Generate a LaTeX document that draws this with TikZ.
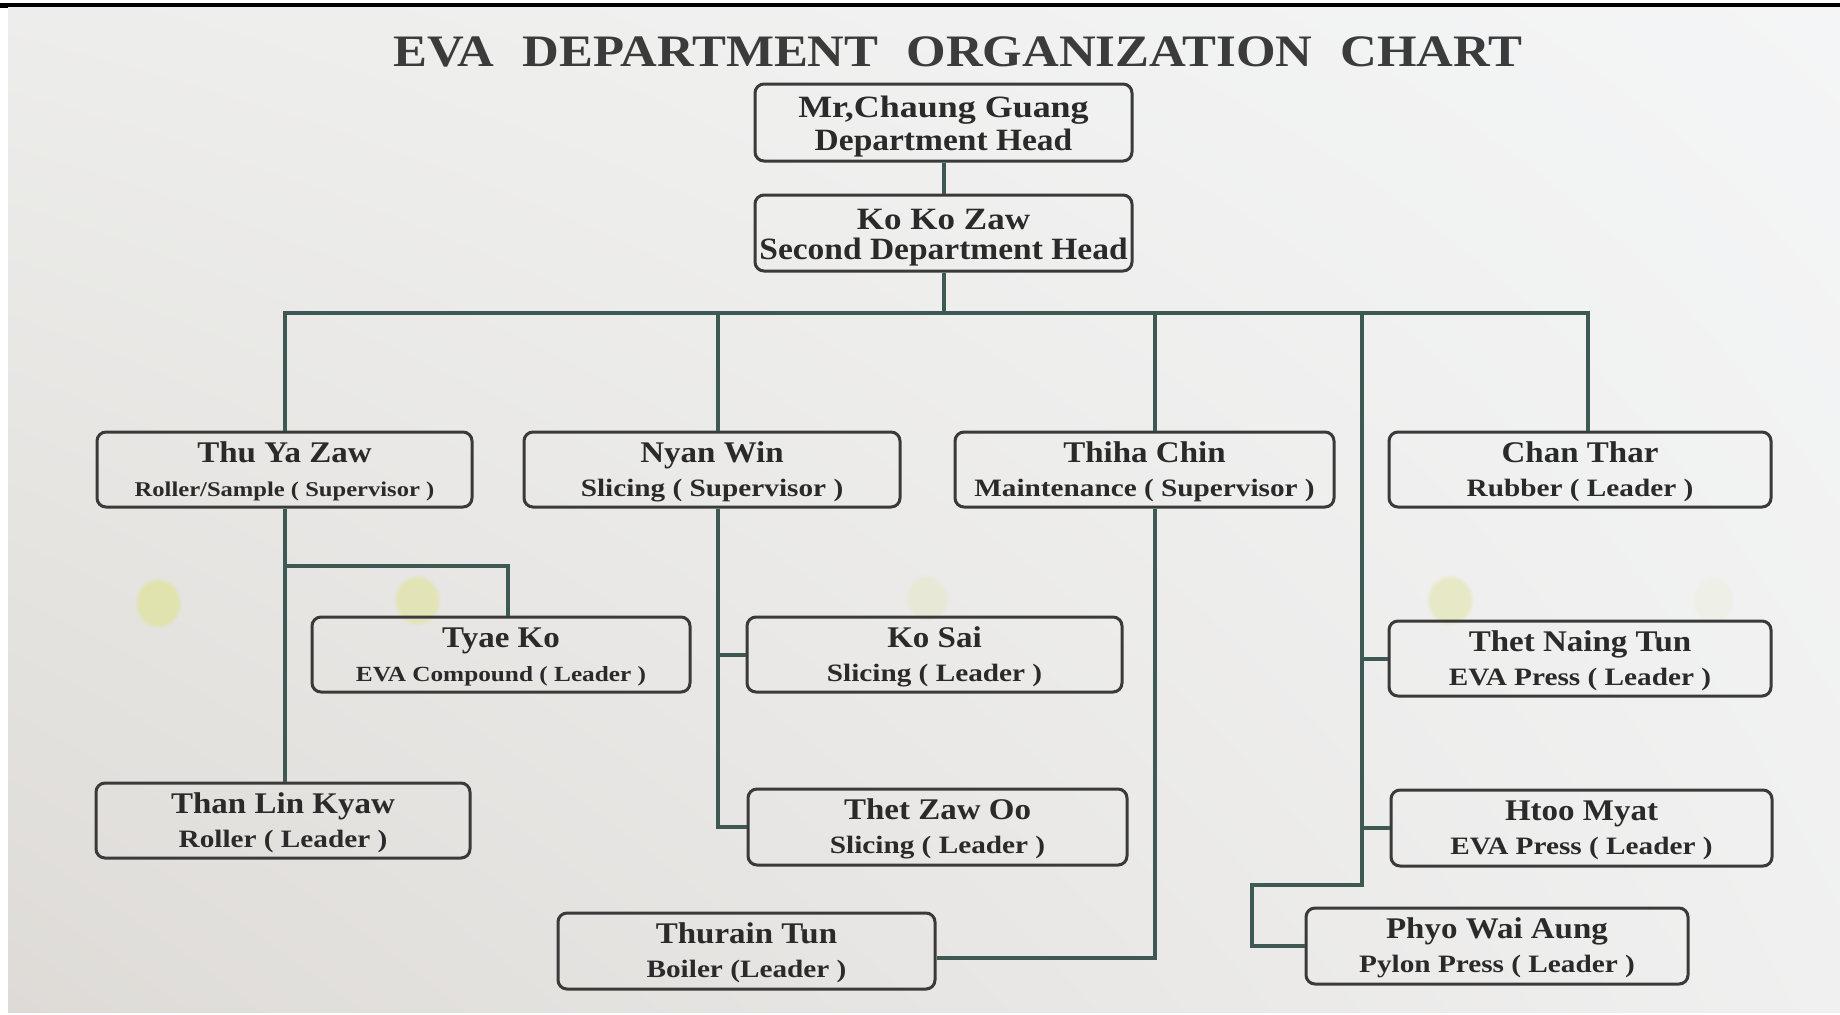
\documentclass[tikz,border=0pt]{standalone}
\usepackage{fontspec}
\setmainfont{Liberation Serif}
\usetikzlibrary{calc,fadings,shadings}

\definecolor{paperUL}{HTML}{EDEDEB}
\definecolor{paperLL}{HTML}{DEDBD7}
\definecolor{paperUR}{HTML}{F4F5F6}
\definecolor{paperLR}{HTML}{F0F0F0}
\definecolor{wire}{HTML}{3E5853}
\definecolor{frame}{HTML}{3A3A3A}
\definecolor{ink}{HTML}{2A2A2A}
\definecolor{stain}{HTML}{E0E39E}

\tikzset{
  box/.style={draw=frame, line width=1.5pt, rounded corners=4.5pt, inner sep=0pt},
  wire/.style={draw=wire, line width=2pt},
  nametxt/.style={anchor=base, inner sep=0pt, text=ink, font=\bfseries\fontsize{15}{15}\selectfont},
  roletxt/.style={anchor=base, inner sep=0pt, text=ink},
  headtxt/.style={anchor=base, inner sep=0pt, text=ink, font=\bfseries\fontsize{15.5}{15.5}\selectfont},
  titletxt/.style={anchor=base, inner sep=0pt, text=ink!92, font=\bfseries\fontsize{22.5}{22.5}\selectfont},
  stainspot/.style={fill=stain, path fading=circle with fuzzy edge 20 percent},
}

% #1 id, #2 left, #3 top, #4 right, #5 bottom, #6 name, #7 role, #8 role size (pt)
\newcommand\member[8]{%
  \node[box, minimum width={(#4-#2)*0.5pt}, minimum height={(#5-#3)*0.5pt}]
    (#1) at ({(#2+#4)/2},{(#3+#5)/2}) {};
  \node[nametxt] (#1-name) at ({(#2+#4)/2},{#3+30}) {\scalebox{1.1}[1]{#6}};
  \node[roletxt, font=\bfseries\fontsize{#8}{#8}\selectfont]
    (#1-role) at ({(#2+#4)/2},{#3+64}) {\scalebox{1.17}[1]{#7}};
}

\begin{document}
\begin{tikzpicture}[x=0.5pt,y=-0.5pt]
\useasboundingbox (0,0) rectangle (1840,1014);
\fill[white] (0,0) rectangle (1840,1014);
\shade[upper left=paperUL, lower left=paperLL, upper right=paperUR, lower right=paperLR]
  (8,6) rectangle (1840,1012);
\draw[black, line width=1.6pt] (0,5) -- (1840,5);
\fill[black] (0,2.5) rectangle (8,8);

% faint stains on the sheet
\fill[stainspot, fill opacity=0.75] (158,603) ellipse (24 and 26);
\fill[stainspot, fill opacity=0.65] (417,600) ellipse (24 and 26);
\fill[stainspot, fill opacity=0.25] (927,598) ellipse (22 and 24);
\fill[stainspot, fill opacity=0.5] (1450,600) ellipse (24 and 26);
\fill[stainspot, fill opacity=0.12] (1713,600) ellipse (22 and 24);

% title
\node[titletxt] (title) at (958,66)
  {\scalebox{1.13}[1]{EVA\hspace{0.55em}DEPARTMENT\hspace{0.55em}ORGANIZATION\hspace{0.55em}CHART}};

% heads
\node[box, minimum width=188.5pt, minimum height=38.5pt] (head) at (943.5,122.5) {};
\node[headtxt] (head-a) at (943.5,117) {\scalebox{1.16}[1]{Mr,Chaung Guang}};
\node[headtxt] (head-b) at (943.5,150) {\scalebox{1.08}[1]{Department Head}};

\node[box, minimum width=188.5pt, minimum height=38pt] (kkz) at (943.5,233) {};
\node[headtxt] (kkz-a) at (943.5,229) {\scalebox{1.13}[1]{Ko Ko Zaw}};
\node[headtxt] (kkz-b) at (943.5,259) {\scalebox{1.08}[1]{Second Department Head}};

% staff
\member{tyz}{97}{432}{472}{507}{Thu Ya Zaw}{Roller/Sample ( Supervisor )}{10.5}
\member{nw}{524}{432}{900}{507}{Nyan Win}{Slicing ( Supervisor )}{12.5}
\member{tc}{955}{432}{1334}{507}{Thiha Chin}{Maintenance ( Supervisor )}{12.5}
\member{ct}{1389}{432}{1771}{507}{Chan Thar}{Rubber ( Leader )}{12.5}
\member{tk}{312}{617}{690}{692}{Tyae Ko}{EVA Compound ( Leader )}{10.8}
\member{ks}{747}{617}{1122}{692}{Ko Sai}{Slicing ( Leader )}{12.5}
\member{tnt}{1389}{621}{1771}{696}{Thet Naing Tun}{EVA Press ( Leader )}{12.5}
\member{tlk}{96}{783}{470}{858}{Than Lin Kyaw}{Roller ( Leader )}{12.5}
\member{tzo}{748}{789}{1127}{865}{Thet Zaw Oo}{Slicing ( Leader )}{12.5}
\member{hm}{1391}{790}{1772}{866}{Htoo Myat}{EVA Press ( Leader )}{12.5}
\member{tt}{558}{913}{935}{989}{Thurain Tun}{Boiler (Leader )}{12.5}
\member{pwa}{1306}{908}{1688}{984}{Phyo Wai Aung}{Pylon Press ( Leader )}{12.5}

% junction points
\coordinate (nwx) at (718,313);
\coordinate (tcx) at (1155,313);
\coordinate (rtx) at (1362,313);
\coordinate (ctx) at (1588,313);
\coordinate (tkx) at (508,566);
\coordinate (ttk) at (1155,958);
\coordinate (rtbend) at (1362,885);
\coordinate (rtfoot) at (1252,885);

% connectors
\draw[wire] (head) -- (kkz);
\draw[wire] (kkz.south) -- (kkz.south |- ctx);
\draw[wire] (tyz.north) |- (ctx) -- (ctx |- ct.north);
\draw[wire] (nwx) -- (nwx |- nw.north);
\draw[wire] (tcx) -- (tcx |- tc.north);
\draw[wire] (rtx) -- (rtbend) -- (rtfoot) |- (pwa.west);
\draw[wire] (rtx |- tnt.west) -- (tnt.west);
\draw[wire] (rtx |- hm.west) -- (hm.west);
\draw[wire] (tyz.south) -- (tyz.south |- tlk.north);
\draw[wire] (tyz.south |- tkx) -- (tkx) -- (tkx |- tk.north);
\draw[wire] (nwx |- nw.south) -- (nwx |- tzo.west) -- (tzo.west);
\draw[wire] (nwx |- ks.west) -- (ks.west);
\draw[wire] (tcx |- tc.south) -- (ttk) -- (ttk -| tt.east);
\end{tikzpicture}
\end{document}
